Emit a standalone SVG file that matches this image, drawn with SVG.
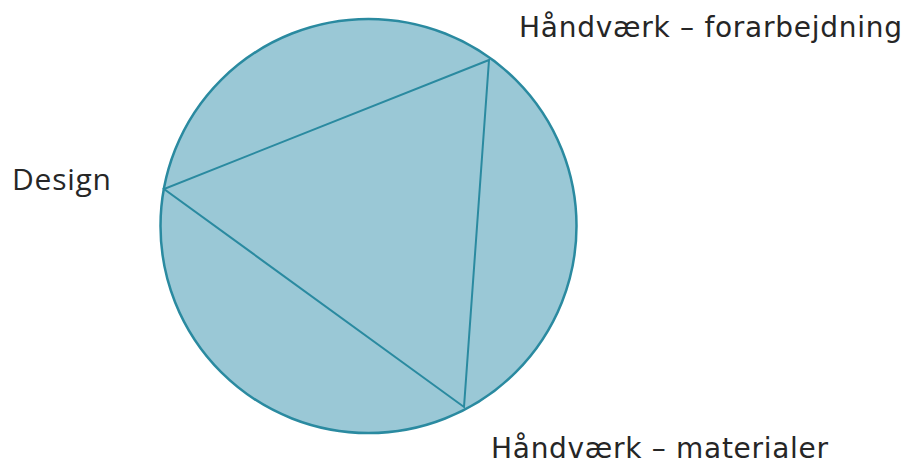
<svg xmlns="http://www.w3.org/2000/svg" width="916" height="465" viewBox="0 0 916 465">
<style>
.lbl{font-family:"DejaVu Sans","Verdana",sans-serif;font-size:28px;fill:#262626}
.lbl2{font-family:"Open Sans","Noto Sans",sans-serif;font-size:30px;fill:#262626}
.edge{stroke:#2a8aa0;stroke-width:2;fill:none}
</style>
<rect width="916" height="465" fill="#ffffff"/>
<g id="circle">
<ellipse cx="368.5" cy="226" rx="208" ry="207" fill="#9ac8d6" stroke="#2a8aa0" stroke-width="2.5"/>
</g>
<g id="connectors">
<polygon class="edge" points="489,60 164,189 464,407"/>
</g>
<g id="node-forarbejdning">
<text class="lbl" x="519" y="37" textLength="383" lengthAdjust="spacing">Håndværk – forarbejdning</text>
</g>
<g id="node-design">
<text class="lbl2" x="12" y="190" textLength="99" lengthAdjust="spacing">Design</text>
</g>
<g id="node-materialer">
<text class="lbl" x="491" y="458" textLength="337" lengthAdjust="spacing">Håndværk – materialer</text>
</g>
</svg>
